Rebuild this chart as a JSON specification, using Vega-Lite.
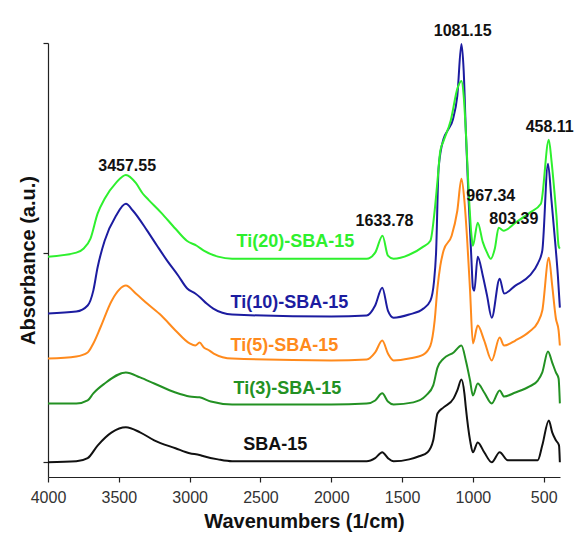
{
  "$schema": "https://vega.github.io/schema/vega-lite/v6.json",
  "width": 512,
  "height": 434,
  "autosize": {"type": "none"},
  "padding": {"left": 48, "top": 43, "right": 15, "bottom": 58},
  "background": "white",
  "config": {"view": {"stroke": null}, "font": "Liberation Sans"},
  "datasets": {
    "spec": [
      {"s":"SBA-15","w":4000,"a":0.0},{"s":"SBA-15","w":3800,"a":0.005},{"s":"SBA-15","w":3720,"a":0.02},{"s":"SBA-15","w":3650,"a":0.08},{"s":"SBA-15","w":3550,"a":0.143},{"s":"SBA-15","w":3450,"a":0.167},{"s":"SBA-15","w":3350,"a":0.143},{"s":"SBA-15","w":3250,"a":0.105},{"s":"SBA-15","w":3100,"a":0.067},{"s":"SBA-15","w":3000,"a":0.043},{"s":"SBA-15","w":2930,"a":0.035},{"s":"SBA-15","w":2900,"a":0.029},{"s":"SBA-15","w":2800,"a":0.014},{"s":"SBA-15","w":2700,"a":0.005},{"s":"SBA-15","w":2000,"a":0.005},{"s":"SBA-15","w":1750,"a":0.005},{"s":"SBA-15","w":1690,"a":0.02},{"s":"SBA-15","w":1640,"a":0.048},{"s":"SBA-15","w":1600,"a":0.02},{"s":"SBA-15","w":1560,"a":0.005},{"s":"SBA-15","w":1450,"a":0.014},{"s":"SBA-15","w":1380,"a":0.029},{"s":"SBA-15","w":1320,"a":0.048},{"s":"SBA-15","w":1280,"a":0.105},{"s":"SBA-15","w":1250,"a":0.233},{"s":"SBA-15","w":1207,"a":0.262},{"s":"SBA-15","w":1136,"a":0.305},{"s":"SBA-15","w":1110,"a":0.343},{"s":"SBA-15","w":1081,"a":0.395},{"s":"SBA-15","w":1060,"a":0.329},{"s":"SBA-15","w":1050,"a":0.262},{"s":"SBA-15","w":1020,"a":0.105},{"s":"SBA-15","w":1000,"a":0.048},{"s":"SBA-15","w":966,"a":0.095},{"s":"SBA-15","w":920,"a":0.048},{"s":"SBA-15","w":867,"a":0.0},{"s":"SBA-15","w":811,"a":0.048},{"s":"SBA-15","w":754,"a":0.01},{"s":"SBA-15","w":542,"a":0.01},{"s":"SBA-15","w":510,"a":0.081},{"s":"SBA-15","w":464,"a":0.2},{"s":"SBA-15","w":440,"a":0.143},{"s":"SBA-15","w":414,"a":0.105},{"s":"SBA-15","w":392,"a":0.081},{"s":"SBA-15","w":386,"a":0.0},

      {"s":"Ti(3)-SBA-15","w":4000,"a":0.28},{"s":"Ti(3)-SBA-15","w":3800,"a":0.28},{"s":"Ti(3)-SBA-15","w":3720,"a":0.295},{"s":"Ti(3)-SBA-15","w":3680,"a":0.329},{"s":"Ti(3)-SBA-15","w":3600,"a":0.376},{"s":"Ti(3)-SBA-15","w":3450,"a":0.429},{"s":"Ti(3)-SBA-15","w":3350,"a":0.405},{"s":"Ti(3)-SBA-15","w":3250,"a":0.376},{"s":"Ti(3)-SBA-15","w":3100,"a":0.333},{"s":"Ti(3)-SBA-15","w":3000,"a":0.314},{"s":"Ti(3)-SBA-15","w":2930,"a":0.31},{"s":"Ti(3)-SBA-15","w":2850,"a":0.29},{"s":"Ti(3)-SBA-15","w":2700,"a":0.276},{"s":"Ti(3)-SBA-15","w":2000,"a":0.276},{"s":"Ti(3)-SBA-15","w":1750,"a":0.28},{"s":"Ti(3)-SBA-15","w":1690,"a":0.295},{"s":"Ti(3)-SBA-15","w":1640,"a":0.329},{"s":"Ti(3)-SBA-15","w":1600,"a":0.29},{"s":"Ti(3)-SBA-15","w":1560,"a":0.276},{"s":"Ti(3)-SBA-15","w":1420,"a":0.286},{"s":"Ti(3)-SBA-15","w":1330,"a":0.319},{"s":"Ti(3)-SBA-15","w":1280,"a":0.367},{"s":"Ti(3)-SBA-15","w":1250,"a":0.452},{"s":"Ti(3)-SBA-15","w":1207,"a":0.495},{"s":"Ti(3)-SBA-15","w":1136,"a":0.524},{"s":"Ti(3)-SBA-15","w":1081,"a":0.557},{"s":"Ti(3)-SBA-15","w":1050,"a":0.486},{"s":"Ti(3)-SBA-15","w":1020,"a":0.39},{"s":"Ti(3)-SBA-15","w":1000,"a":0.319},{"s":"Ti(3)-SBA-15","w":966,"a":0.376},{"s":"Ti(3)-SBA-15","w":920,"a":0.333},{"s":"Ti(3)-SBA-15","w":867,"a":0.281},{"s":"Ti(3)-SBA-15","w":811,"a":0.343},{"s":"Ti(3)-SBA-15","w":780,"a":0.314},{"s":"Ti(3)-SBA-15","w":700,"a":0.333},{"s":"Ti(3)-SBA-15","w":600,"a":0.362},{"s":"Ti(3)-SBA-15","w":542,"a":0.39},{"s":"Ti(3)-SBA-15","w":510,"a":0.429},{"s":"Ti(3)-SBA-15","w":470,"a":0.529},{"s":"Ti(3)-SBA-15","w":440,"a":0.476},{"s":"Ti(3)-SBA-15","w":414,"a":0.429},{"s":"Ti(3)-SBA-15","w":395,"a":0.4},{"s":"Ti(3)-SBA-15","w":386,"a":0.281},

      {"s":"Ti(5)-SBA-15","w":4000,"a":0.495},{"s":"Ti(5)-SBA-15","w":3800,"a":0.505},{"s":"Ti(5)-SBA-15","w":3720,"a":0.524},{"s":"Ti(5)-SBA-15","w":3680,"a":0.567},{"s":"Ti(5)-SBA-15","w":3630,"a":0.643},{"s":"Ti(5)-SBA-15","w":3550,"a":0.771},{"s":"Ti(5)-SBA-15","w":3450,"a":0.843},{"s":"Ti(5)-SBA-15","w":3380,"a":0.805},{"s":"Ti(5)-SBA-15","w":3300,"a":0.757},{"s":"Ti(5)-SBA-15","w":3200,"a":0.7},{"s":"Ti(5)-SBA-15","w":3100,"a":0.629},{"s":"Ti(5)-SBA-15","w":3000,"a":0.567},{"s":"Ti(5)-SBA-15","w":2960,"a":0.557},{"s":"Ti(5)-SBA-15","w":2930,"a":0.571},{"s":"Ti(5)-SBA-15","w":2900,"a":0.548},{"s":"Ti(5)-SBA-15","w":2860,"a":0.533},{"s":"Ti(5)-SBA-15","w":2830,"a":0.519},{"s":"Ti(5)-SBA-15","w":2700,"a":0.495},{"s":"Ti(5)-SBA-15","w":2000,"a":0.486},{"s":"Ti(5)-SBA-15","w":1750,"a":0.49},{"s":"Ti(5)-SBA-15","w":1690,"a":0.524},{"s":"Ti(5)-SBA-15","w":1640,"a":0.581},{"s":"Ti(5)-SBA-15","w":1600,"a":0.519},{"s":"Ti(5)-SBA-15","w":1560,"a":0.486},{"s":"Ti(5)-SBA-15","w":1450,"a":0.495},{"s":"Ti(5)-SBA-15","w":1350,"a":0.514},{"s":"Ti(5)-SBA-15","w":1300,"a":0.557},{"s":"Ti(5)-SBA-15","w":1270,"a":0.676},{"s":"Ti(5)-SBA-15","w":1250,"a":0.833},{"s":"Ti(5)-SBA-15","w":1230,"a":0.938},{"s":"Ti(5)-SBA-15","w":1207,"a":1.01},{"s":"Ti(5)-SBA-15","w":1150,"a":1.081},{"s":"Ti(5)-SBA-15","w":1110,"a":1.2},{"s":"Ti(5)-SBA-15","w":1081,"a":1.352},{"s":"Ti(5)-SBA-15","w":1060,"a":1.248},{"s":"Ti(5)-SBA-15","w":1040,"a":1.057},{"s":"Ti(5)-SBA-15","w":1020,"a":0.819},{"s":"Ti(5)-SBA-15","w":1000,"a":0.567},{"s":"Ti(5)-SBA-15","w":966,"a":0.652},{"s":"Ti(5)-SBA-15","w":920,"a":0.581},{"s":"Ti(5)-SBA-15","w":867,"a":0.486},{"s":"Ti(5)-SBA-15","w":811,"a":0.595},{"s":"Ti(5)-SBA-15","w":780,"a":0.557},{"s":"Ti(5)-SBA-15","w":700,"a":0.581},{"s":"Ti(5)-SBA-15","w":600,"a":0.624},{"s":"Ti(5)-SBA-15","w":542,"a":0.667},{"s":"Ti(5)-SBA-15","w":510,"a":0.724},{"s":"Ti(5)-SBA-15","w":464,"a":0.976},{"s":"Ti(5)-SBA-15","w":440,"a":0.843},{"s":"Ti(5)-SBA-15","w":414,"a":0.686},{"s":"Ti(5)-SBA-15","w":395,"a":0.629},{"s":"Ti(5)-SBA-15","w":386,"a":0.557},

      {"s":"Ti(10)-SBA-15","w":4000,"a":0.71},{"s":"Ti(10)-SBA-15","w":3800,"a":0.719},{"s":"Ti(10)-SBA-15","w":3720,"a":0.748},{"s":"Ti(10)-SBA-15","w":3680,"a":0.819},{"s":"Ti(10)-SBA-15","w":3650,"a":0.929},{"s":"Ti(10)-SBA-15","w":3600,"a":1.057},{"s":"Ti(10)-SBA-15","w":3520,"a":1.176},{"s":"Ti(10)-SBA-15","w":3450,"a":1.233},{"s":"Ti(10)-SBA-15","w":3400,"a":1.2},{"s":"Ti(10)-SBA-15","w":3300,"a":1.105},{"s":"Ti(10)-SBA-15","w":3230,"a":1.033},{"s":"Ti(10)-SBA-15","w":3159,"a":0.962},{"s":"Ti(10)-SBA-15","w":3080,"a":0.89},{"s":"Ti(10)-SBA-15","w":3017,"a":0.829},{"s":"Ti(10)-SBA-15","w":2960,"a":0.805},{"s":"Ti(10)-SBA-15","w":2925,"a":0.786},{"s":"Ti(10)-SBA-15","w":2880,"a":0.757},{"s":"Ti(10)-SBA-15","w":2833,"a":0.733},{"s":"Ti(10)-SBA-15","w":2700,"a":0.705},{"s":"Ti(10)-SBA-15","w":2000,"a":0.695},{"s":"Ti(10)-SBA-15","w":1750,"a":0.7},{"s":"Ti(10)-SBA-15","w":1690,"a":0.748},{"s":"Ti(10)-SBA-15","w":1640,"a":0.833},{"s":"Ti(10)-SBA-15","w":1600,"a":0.724},{"s":"Ti(10)-SBA-15","w":1560,"a":0.69},{"s":"Ti(10)-SBA-15","w":1450,"a":0.705},{"s":"Ti(10)-SBA-15","w":1350,"a":0.733},{"s":"Ti(10)-SBA-15","w":1300,"a":0.771},{"s":"Ti(10)-SBA-15","w":1275,"a":0.86},{"s":"Ti(10)-SBA-15","w":1260,"a":1.0},{"s":"Ti(10)-SBA-15","w":1242,"a":1.405},{"s":"Ti(10)-SBA-15","w":1207,"a":1.543},{"s":"Ti(10)-SBA-15","w":1180,"a":1.581},{"s":"Ti(10)-SBA-15","w":1140,"a":1.638},{"s":"Ti(10)-SBA-15","w":1110,"a":1.748},{"s":"Ti(10)-SBA-15","w":1081,"a":1.995},{"s":"Ti(10)-SBA-15","w":1065,"a":1.867},{"s":"Ti(10)-SBA-15","w":1050,"a":1.581},{"s":"Ti(10)-SBA-15","w":1030,"a":1.248},{"s":"Ti(10)-SBA-15","w":1010,"a":0.962},{"s":"Ti(10)-SBA-15","w":1000,"a":0.833},{"s":"Ti(10)-SBA-15","w":990,"a":0.819},{"s":"Ti(10)-SBA-15","w":966,"a":0.981},{"s":"Ti(10)-SBA-15","w":930,"a":0.89},{"s":"Ti(10)-SBA-15","w":900,"a":0.795},{"s":"Ti(10)-SBA-15","w":867,"a":0.69},{"s":"Ti(10)-SBA-15","w":811,"a":0.876},{"s":"Ti(10)-SBA-15","w":780,"a":0.805},{"s":"Ti(10)-SBA-15","w":700,"a":0.843},{"s":"Ti(10)-SBA-15","w":600,"a":0.89},{"s":"Ti(10)-SBA-15","w":542,"a":0.948},{"s":"Ti(10)-SBA-15","w":510,"a":1.01},{"s":"Ti(10)-SBA-15","w":470,"a":1.424},{"s":"Ti(10)-SBA-15","w":445,"a":1.248},{"s":"Ti(10)-SBA-15","w":420,"a":1.057},{"s":"Ti(10)-SBA-15","w":400,"a":0.89},{"s":"Ti(10)-SBA-15","w":386,"a":0.738},

      {"s":"Ti(20)-SBA-15","w":4000,"a":0.981},{"s":"Ti(20)-SBA-15","w":3800,"a":1.0},{"s":"Ti(20)-SBA-15","w":3750,"a":1.019},{"s":"Ti(20)-SBA-15","w":3700,"a":1.067},{"s":"Ti(20)-SBA-15","w":3650,"a":1.186},{"s":"Ti(20)-SBA-15","w":3600,"a":1.257},{"s":"Ti(20)-SBA-15","w":3520,"a":1.333},{"s":"Ti(20)-SBA-15","w":3450,"a":1.371},{"s":"Ti(20)-SBA-15","w":3380,"a":1.333},{"s":"Ti(20)-SBA-15","w":3330,"a":1.281},{"s":"Ti(20)-SBA-15","w":3290,"a":1.252},{"s":"Ti(20)-SBA-15","w":3200,"a":1.19},{"s":"Ti(20)-SBA-15","w":3100,"a":1.114},{"s":"Ti(20)-SBA-15","w":3020,"a":1.057},{"s":"Ti(20)-SBA-15","w":2950,"a":1.033},{"s":"Ti(20)-SBA-15","w":2900,"a":1.01},{"s":"Ti(20)-SBA-15","w":2800,"a":0.981},{"s":"Ti(20)-SBA-15","w":2700,"a":0.971},{"s":"Ti(20)-SBA-15","w":2000,"a":0.971},{"s":"Ti(20)-SBA-15","w":1750,"a":0.971},{"s":"Ti(20)-SBA-15","w":1690,"a":1.0},{"s":"Ti(20)-SBA-15","w":1638,"a":1.081},{"s":"Ti(20)-SBA-15","w":1600,"a":0.986},{"s":"Ti(20)-SBA-15","w":1560,"a":0.971},{"s":"Ti(20)-SBA-15","w":1450,"a":0.99},{"s":"Ti(20)-SBA-15","w":1350,"a":1.029},{"s":"Ti(20)-SBA-15","w":1300,"a":1.057},{"s":"Ti(20)-SBA-15","w":1270,"a":1.2},{"s":"Ti(20)-SBA-15","w":1250,"a":1.343},{"s":"Ti(20)-SBA-15","w":1230,"a":1.486},{"s":"Ti(20)-SBA-15","w":1207,"a":1.533},{"s":"Ti(20)-SBA-15","w":1157,"a":1.629},{"s":"Ti(20)-SBA-15","w":1108,"a":1.786},{"s":"Ti(20)-SBA-15","w":1081,"a":1.819},{"s":"Ti(20)-SBA-15","w":1065,"a":1.748},{"s":"Ti(20)-SBA-15","w":1050,"a":1.581},{"s":"Ti(20)-SBA-15","w":1030,"a":1.295},{"s":"Ti(20)-SBA-15","w":1010,"a":1.081},{"s":"Ti(20)-SBA-15","w":1000,"a":1.033},{"s":"Ti(20)-SBA-15","w":966,"a":1.143},{"s":"Ti(20)-SBA-15","w":930,"a":1.05},{"s":"Ti(20)-SBA-15","w":900,"a":1.0},{"s":"Ti(20)-SBA-15","w":874,"a":0.971},{"s":"Ti(20)-SBA-15","w":845,"a":1.02},{"s":"Ti(20)-SBA-15","w":818,"a":1.119},{"s":"Ti(20)-SBA-15","w":783,"a":1.105},{"s":"Ti(20)-SBA-15","w":700,"a":1.143},{"s":"Ti(20)-SBA-15","w":600,"a":1.19},{"s":"Ti(20)-SBA-15","w":520,"a":1.233},{"s":"Ti(20)-SBA-15","w":464,"a":1.538},{"s":"Ti(20)-SBA-15","w":445,"a":1.438},{"s":"Ti(20)-SBA-15","w":425,"a":1.295},{"s":"Ti(20)-SBA-15","w":410,"a":1.176},{"s":"Ti(20)-SBA-15","w":395,"a":1.033},{"s":"Ti(20)-SBA-15","w":386,"a":1.019}
    ],
    "peaks": [
      {"t":"3457.55","w":3441,"a":1.414},
      {"t":"1081.15","w":1072,"a":2.057},
      {"t":"1633.78","w":1624,"a":1.152},
      {"t":"967.34","w":874,"a":1.271},
      {"t":"803.39","w":711,"a":1.162},
      {"t":"458.11","w":458,"a":1.6}
    ],
    "names": [
      {"s":"Ti(20)-SBA-15","w":2253,"a":1.05},
      {"s":"Ti(10)-SBA-15","w":2296,"a":0.76},
      {"s":"Ti(5)-SBA-15","w":2331,"a":0.557},
      {"s":"Ti(3)-SBA-15","w":2310,"a":0.352},
      {"s":"SBA-15","w":2395,"a":0.081}
    ]
  },
  "layer": [
    {
      "data": {"name": "spec"},
      "mark": {"type": "line", "strokeWidth": 2, "interpolate": "monotone"},
      "encoding": {
        "x": {
          "field": "w", "type": "quantitative",
          "scale": {"domain": [385, 4000], "reverse": true, "nice": false, "zero": false},
          "axis": {
            "title": "Wavenumbers (1/cm)",
            "values": [4000, 3750, 3500, 3250, 3000, 2750, 2500, 2250, 2000, 1750, 1500, 1250, 1000, 750, 500],
            "format": "d",
            "labelExpr": "datum.value % 500 == 0 ? datum.label : ''",
            "labelFlush": false,
            "labelOverlap": false,
            "grid": false,
            "domainColor": "#222", "domainWidth": 1.2,
            "tickColor": "#222", "tickSize": 5, "tickWidth": 1.2,
            "labelFontSize": 16, "labelColor": "#333", "labelPadding": 7,
            "labelFont": "Liberation Sans",
            "titleFont": "Liberation Sans", "titleFontSize": 20, "titleFontWeight": "bold",
            "titleColor": "#111", "titlePadding": 6
          }
        },
        "y": {
          "field": "a", "type": "quantitative",
          "scale": {"domain": [-0.07, 2.0], "nice": false, "zero": false},
          "axis": {
            "title": "Absorbance (a.u.)",
            "values": [0, 1, 2],
            "labels": false,
            "grid": false,
            "domainColor": "#222", "domainWidth": 1.2,
            "tickColor": "#222", "tickSize": 5, "tickWidth": 1.2,
            "titleFont": "Liberation Sans", "titleFontSize": 20, "titleFontWeight": "bold",
            "titleColor": "#111", "titlePadding": 4
          }
        },
        "color": {
          "field": "s", "type": "nominal", "legend": null,
          "scale": {
            "domain": ["SBA-15", "Ti(3)-SBA-15", "Ti(5)-SBA-15", "Ti(10)-SBA-15", "Ti(20)-SBA-15"],
            "range": ["#111111", "#239123", "#ff8a1c", "#1c1ca0", "#2ef02e"]
          }
        }
      }
    },
    {
      "data": {"name": "names"},
      "mark": {"type": "text", "font": "Liberation Sans", "fontSize": 18, "fontWeight": "bold", "align": "center", "baseline": "middle"},
      "encoding": {
        "x": {"field": "w", "type": "quantitative"},
        "y": {"field": "a", "type": "quantitative"},
        "text": {"field": "s"},
        "color": {"field": "s", "type": "nominal", "legend": null}
      }
    },
    {
      "data": {"name": "peaks"},
      "mark": {"type": "text", "font": "Liberation Sans", "fontSize": 16, "fontWeight": "bold", "align": "center", "baseline": "middle", "color": "#111"},
      "encoding": {
        "x": {"field": "w", "type": "quantitative"},
        "y": {"field": "a", "type": "quantitative"},
        "text": {"field": "t"}
      }
    }
  ]
}
